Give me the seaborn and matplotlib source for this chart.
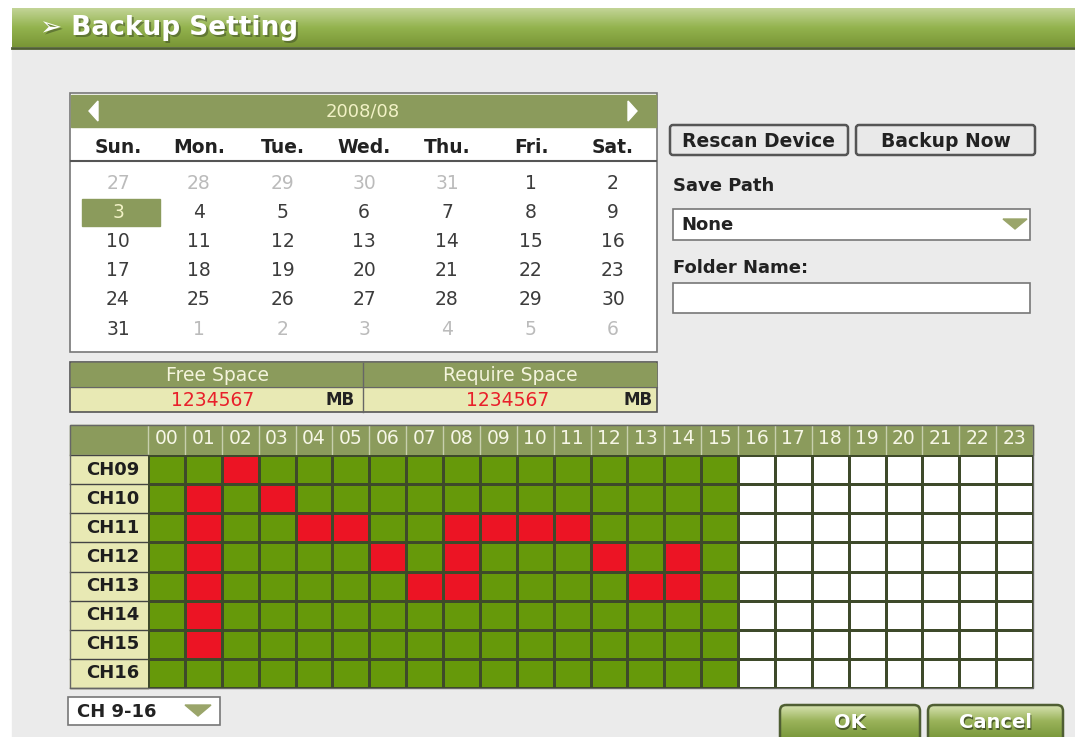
import numpy as np
import pandas as pd
import seaborn as sns
import matplotlib.pyplot as plt
from matplotlib.colors import ListedColormap, LinearSegmentedColormap
from matplotlib.patches import Rectangle, FancyBboxPatch, Polygon

# ---- data ----
month_label = "2008/08"
weekdays = ["Sun.", "Mon.", "Tue.", "Wed.", "Thu.", "Fri.", "Sat."]
cal_weeks = [
    [27, 28, 29, 30, 31, 1, 2],
    [3, 4, 5, 6, 7, 8, 9],
    [10, 11, 12, 13, 14, 15, 16],
    [17, 18, 19, 20, 21, 22, 23],
    [24, 25, 26, 27, 28, 29, 30],
    [31, 1, 2, 3, 4, 5, 6],
]
selected_day = 3
free_space = "1234567"
require_space = "1234567"

hours = ["%02d" % h for h in range(24)]
channels = ["CH09", "CH10", "CH11", "CH12", "CH13", "CH14", "CH15", "CH16"]
# 0 = no data, 1 = recorded, 2 = selected for backup
rec_hours = 16
selected = {
    "CH09": [2],
    "CH10": [1, 3],
    "CH11": [1, 4, 5, 8, 9, 10, 11],
    "CH12": [1, 6, 8, 12, 14],
    "CH13": [1, 7, 8, 13, 14],
    "CH14": [1],
    "CH15": [1],
    "CH16": [],
}

grid = pd.DataFrame(0, index=channels, columns=hours)
grid.iloc[:, :rec_hours] = 1
for ch, hs in selected.items():
    for h in hs:
        grid.loc[ch, hours[h]] = 2

# ---- colours ----
BG = "#ebebeb"
OLIVE = "#8b9b5c"
PALE = "#e8e9b4"
GREEN = "#66990a"
RED = "#ec1424"

W, H = 1075, 737
fig = plt.figure(figsize=(W / 100, H / 100), dpi=100)
fig.patch.set_facecolor("white")
ax = fig.add_axes([0, 0, 1, 1])
ax.set_xlim(0, W)
ax.set_ylim(H, 0)
ax.axis("off")

ax.add_patch(Rectangle((12, 48), W - 12, H - 48, color=BG, zorder=0))

# title bar
grad = np.linspace(0, 1, 50).reshape(-1, 1)
tcmap = LinearSegmentedColormap.from_list("t", ["#c2d496", "#93b34e", "#799636"])
ax.imshow(grad, cmap=tcmap, extent=[12, W, 47, 8], aspect="auto", zorder=1)
ax.plot([12, W], [47.5, 47.5], color="#4f5e33", lw=2, zorder=2)
ax.text(42, 30, "➢ Backup Setting", color="#46562a", fontsize=19, fontweight="bold",
        va="center", zorder=2, alpha=0.6)
ax.text(40, 28, "➢ Backup Setting", color="white", fontsize=19, fontweight="bold",
        va="center", zorder=3)

# ---- calendar ----
ax.add_patch(Rectangle((70, 93), 587, 259, facecolor="white", edgecolor="#777777", lw=1.2, zorder=1))
ax.add_patch(Rectangle((71, 95), 585, 32, color=OLIVE, zorder=2))
ax.text(363, 111, month_label, color="#f2f2c6", fontsize=13, ha="center", va="center", zorder=3)
ax.add_patch(Polygon([[98, 101], [98, 121], [89, 111]], color="white", zorder=3))
ax.add_patch(Polygon([[628, 101], [628, 121], [637, 111]], color="white", zorder=3))
ax.plot([71, 656], [161, 161], color="#555555", lw=1.5, zorder=2)

col_x = [118, 199, 283, 364, 447, 531, 613]
for x, d in zip(col_x, weekdays):
    ax.text(x, 147, d, color="#222222", fontsize=13.5, fontweight="bold", ha="center", va="center", zorder=3)

row_y = [183, 212, 241, 270, 299, 329]
for r, week in enumerate(cal_weeks):
    for c, d in enumerate(week):
        other = (r == 0 and d > 7) or (r == len(cal_weeks) - 1 and d < 7)
        color = "#bbbbbb" if other else "#3c3c3c"
        if not other and d == selected_day:
            ax.add_patch(Rectangle((82, 199), 78, 27, color=OLIVE, zorder=2))
            color = "#f2f2c6"
        ax.text(col_x[c], row_y[r], str(d), color=color, fontsize=13.5, ha="center", va="center", zorder=3)

# ---- space panel ----
ax.add_patch(Rectangle((70, 362), 587, 50, facecolor=PALE, edgecolor="#555555", lw=1.2, zorder=1))
ax.add_patch(Rectangle((71, 363), 585, 24, color=OLIVE, zorder=2))
ax.plot([363, 363], [363, 412], color="#666666", lw=1, zorder=3)
ax.plot([70, 657], [387, 387], color="#666666", lw=0.8, zorder=3)
ax.text(218, 375, "Free Space", color="#f4f4dc", fontsize=13.5, ha="center", va="center", zorder=3)
ax.text(510, 375, "Require Space", color="#f4f4dc", fontsize=13.5, ha="center", va="center", zorder=3)
ax.text(213, 400, free_space, color="#e8202a", fontsize=13.5, ha="center", va="center", zorder=3)
ax.text(508, 400, require_space, color="#e8202a", fontsize=13.5, ha="center", va="center", zorder=3)
ax.text(340, 400, "MB", color="#222222", fontsize=12, fontweight="bold", ha="center", va="center", zorder=3)
ax.text(638, 400, "MB", color="#222222", fontsize=12, fontweight="bold", ha="center", va="center", zorder=3)

# ---- right panel ----
for x0, w, lab in [(670, 178, "Rescan Device"), (856, 179, "Backup Now")]:
    ax.add_patch(FancyBboxPatch((x0, 125), w, 30, boxstyle="round,pad=0,rounding_size=3",
                                facecolor="#e9e9e9", edgecolor="#555555", lw=1.8, zorder=2))
    ax.text(x0 + w / 2, 141, lab, color="#222222", fontsize=13.5, fontweight="bold",
            ha="center", va="center", zorder=3)
ax.text(673, 186, "Save Path", color="#222222", fontsize=13, fontweight="bold", va="center", zorder=3)
ax.add_patch(Rectangle((673, 209), 357, 31, facecolor="white", edgecolor="#777777", lw=1.2, zorder=2))
ax.text(681, 225, "None", color="#222222", fontsize=13, fontweight="bold", va="center", zorder=3)
ax.add_patch(Polygon([[1003, 219], [1027, 219], [1015, 229]], color="#9aa56a", zorder=3))
ax.text(673, 268, "Folder Name:", color="#222222", fontsize=13, fontweight="bold", va="center", zorder=3)
ax.add_patch(Rectangle((673, 283), 357, 30, facecolor="white", edgecolor="#777777", lw=1.2, zorder=2))

# ---- schedule grid ----
gx0, gx1, gy0, gy1 = 148, 1033, 455, 688
ax.add_patch(Rectangle((70, 425), gx1 - 70, 30, color=OLIVE, zorder=1))
ax.add_patch(Rectangle((70, gy0), gx0 - 70, gy1 - gy0, color=PALE, zorder=1))
cw = (gx1 - gx0) / 24
for i in range(25):
    ax.plot([gx0 + i * cw] * 2, [425, gy0], color="#c8cfae", lw=1, zorder=2)
rh = (gy1 - gy0) / 8
for j in range(9):
    ax.plot([70, gx0], [gy0 + j * rh] * 2, color="#444444", lw=1, zorder=2)
ax.add_patch(Rectangle((70, 425), gx1 - 70, gy1 - 425, fill=False, edgecolor="#666666", lw=1, zorder=2))

hax = fig.add_axes([gx0 / W, 1 - gy1 / H, (gx1 - gx0) / W, (gy1 - gy0) / H])
sns.heatmap(grid, ax=hax, cmap=ListedColormap(["white", GREEN, RED]), vmin=0, vmax=2,
            cbar=False, linewidths=1, linecolor="#3e4a2a",
            xticklabels=hours, yticklabels=channels)
hax.xaxis.tick_top()
hax.tick_params(axis="x", length=0, pad=5, labelsize=13.5, labelcolor="#f6f6e6", rotation=0)
hax.tick_params(axis="y", length=0, pad=6, labelsize=13, labelcolor="#1e1e1e", rotation=0)
for t in hax.get_yticklabels():
    t.set_fontweight("bold")
hax.set_xlabel("")
hax.set_ylabel("")

# ---- bottom controls ----
ax.add_patch(Rectangle((68, 697), 152, 28, facecolor="white", edgecolor="#777777", lw=1.2, zorder=2))
ax.text(77, 712, "CH 9-16", color="#222222", fontsize=13, fontweight="bold", va="center", zorder=3)
ax.add_patch(Polygon([[185, 705], [211, 705], [198, 716]], color="#9aa56a", zorder=3))

bcmap = LinearSegmentedColormap.from_list("b", ["#d6e2b0", "#9ab35a", "#7c9a3e"])
for x0, w, lab in [(780, 140, "OK"), (928, 135, "Cancel")]:
    ax.imshow(grad, cmap=bcmap, extent=[x0, x0 + w, H, 705], aspect="auto", zorder=2)
    ax.add_patch(FancyBboxPatch((x0, 705), w, 40, boxstyle="round,pad=0,rounding_size=6",
                                fill=False, edgecolor="#4f5e33", lw=1.8, zorder=3))
    ax.text(x0 + w / 2 + 1, 724, lab, color="#4a5a2a", fontsize=14, fontweight="bold",
            ha="center", va="center", zorder=3)
    ax.text(x0 + w / 2, 722, lab, color="white", fontsize=14, fontweight="bold",
            ha="center", va="center", zorder=4)

ax.set_xlim(0, W)
ax.set_ylim(H, 0)
fig.savefig("out.png", dpi=100)
